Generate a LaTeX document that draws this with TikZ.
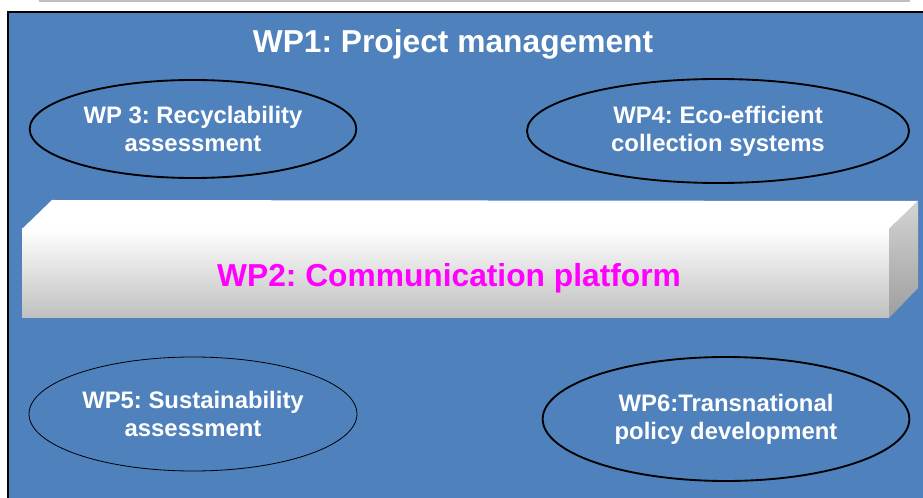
\documentclass[tikz,border=0pt]{standalone}
\usepackage{fontspec}
\setmainfont{Liberation Sans}
\usepackage{xcolor}
\usepackage{tikz}
\usetikzlibrary{shapes, backgrounds}
\definecolor{wpblue}{RGB}{79,129,189}
\definecolor{wpmagenta}{RGB}{255,0,255}
\frenchspacing

\begin{document}
\begin{tikzpicture}[
    x=0.75pt, y=-0.75pt,
    wp ellipse/.style={ellipse, draw=black, line width=1.4pt, text=white, inner sep=0pt,
        align=center, font=\bfseries\fontsize{17.9}{21}\selectfont},
    wp title/.style={text=white, inner sep=0pt, font=\bfseries\fontsize{23.8}{28}\selectfont}
]
\useasboundingbox (0,0) rectangle (923,498);

% 背景
\fill[black!25] (39,0) rectangle (910,2);
\draw[fill=wpblue, line width=0.8pt] (8,12) rectangle (935,510);

% 标题
\node[wp title, anchor=base] (wp1) at (453,53) {WP1: Project management};

% 平台
\coordinate (fl) at (22,229);
\coordinate (fr) at (889,229);
\coordinate (bl) at (52,200);
\coordinate (br) at (918,201);
\fill[white] (fl) -- (bl) -- (br) -- (fr) -- cycle;
\shade[top color=white, bottom color=black!25] (fl) rectangle (889,318);
\shade[top color=black!17, bottom color=black!38] (fr) -- (br) -- (918,288) -- (889,318) -- cycle;
\node[wp title, text=wpmagenta, anchor=base] (wp2) at (449,287) {WP2: Communication platform};

% 工作包
\node[wp ellipse, minimum width=245pt, minimum height=73.5pt] (wp3) at (193,129)
    {WP 3: Recyclability\\assessment};
\node[wp ellipse, minimum width=286.5pt, minimum height=78pt] (wp4) at (718,131)
    {WP4: Eco-efficient\\collection systems};
\node[wp ellipse, line width=0.6pt, minimum width=246pt, minimum height=85.5pt] (wp5) at (193,414)
    {WP5: Sustainability\\assessment};
\node[wp ellipse, minimum width=275pt, minimum height=93pt] (wp6) at (726,419)
    {WP6:Transnational\\policy development};

\end{tikzpicture}
\end{document}
